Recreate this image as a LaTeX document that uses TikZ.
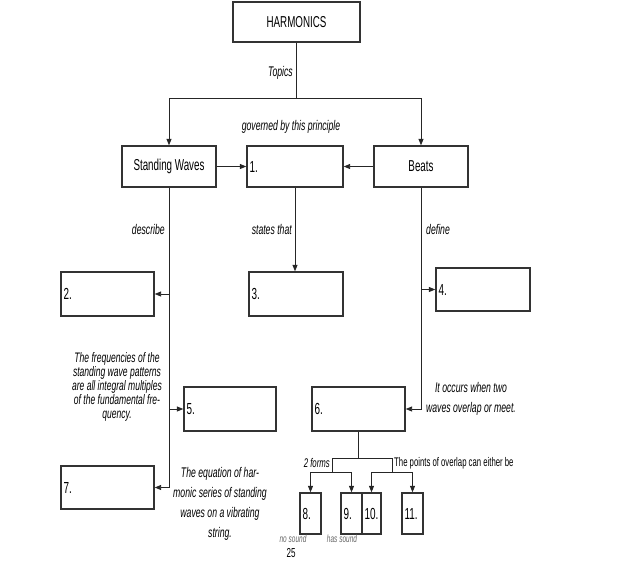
\documentclass[tikz,border=0pt]{standalone}
\usepackage{fontspec}
\setmainfont[FakeStretch=0.62]{Liberation Sans}
\usetikzlibrary{arrows.meta}
\begin{document}
\begin{tikzpicture}[x=1pt,y=-1pt,
  boxn/.style={draw=black!80,line width=1.3pt,fill=white,inner xsep=2.5pt,inner ysep=0pt,align=left,
     font=\fontsize{16}{16}\selectfont},
  titlebox/.style={draw=black!80,line width=1.3pt,fill=white,inner sep=0pt,align=center,
     font=\fontsize{15.8}{16}\selectfont},
  ln/.style={draw=black!85,line width=0.9pt},
  arr/.style={ln,-{Triangle[length=6.5pt,width=5pt]}},
  lbl/.style={inner sep=0pt,font=\fontsize{14}{14}\selectfont\itshape},
  para/.style={inner sep=0pt,align=center,font=\fontsize{13.8}{14}\selectfont\itshape},
  parb/.style={inner sep=0pt,align=center,font=\fontsize{14}{20}\selectfont\itshape},
  tiny/.style={inner sep=0pt,text=black!60,font=\fontsize{10.5}{10.5}\selectfont\itshape}
]
\useasboundingbox (0,0) rectangle (623,565);

% boxes
\node[titlebox,minimum width=127pt,minimum height=40pt] (harm) at (296.5,22) {HARMONICS};
\node[titlebox,minimum width=94pt,minimum height=41pt] (sw) at (169,166.5) {Standing Waves};
\node[titlebox,minimum width=94pt,minimum height=41pt] (beats) at (421,166.5) {Beats};
\node[boxn,text width=91pt,minimum height=41pt] (b1) at (295,166.5) {1.};
\node[boxn,text width=88pt,minimum height=44pt] (b2) at (107.5,294) {2.};
\node[boxn,text width=89pt,minimum height=44pt] (b3) at (296,294) {3.};
\node[boxn,text width=89pt,minimum height=43pt] (b4) at (483,289.5) {4.};
\node[boxn,text width=87pt,minimum height=44pt] (b5) at (230,409) {5.};
\node[boxn,text width=88pt,minimum height=44pt] (b6) at (358.5,409) {6.};
\node[boxn,text width=88pt,minimum height=43pt] (b7) at (107.5,487.5) {7.};
\node[boxn,text width=16pt,minimum height=41pt] (b8) at (310.5,513.5) {8.};
\node[boxn,text width=16pt,minimum height=41pt] (b9) at (351.5,513.5) {9.};
\node[boxn,text width=14pt,minimum height=41pt] (b10) at (371.5,513.5) {10.};
\node[boxn,text width=16pt,minimum height=41pt] (b11) at (412.5,513.5) {11.};

% top tree
\coordinate (j1) at (296.5,98);
\draw[ln] (harm.south) -- (j1);
\draw[arr] (j1) -| (sw.north);
\draw[arr] (j1) -| (beats.north);
\node[lbl,anchor=east] (topics) at (293,73) {Topics};
\node[lbl] (gov) at (291,127) {governed by this principle};

\draw[arr] (sw.east) -- (b1.west);
\draw[arr] (beats.west) -- (b1.east);

% standing waves trunk
\draw[ln] (sw.south) -- (sw.south |- b7.east);
\draw[arr] (sw.south |- b2.east) -- (b2.east);
\draw[arr] (sw.south |- b5.west) -- (b5.west);
\draw[arr] (sw.south |- b7.east) -- (b7.east);
\node[lbl,anchor=east] (describe) at (165,229) {describe};

% box 1 to 3
\draw[arr] (b1.south) -- (b1.south |- b3.north);
\node[lbl,anchor=east] (states) at (292,229) {states that};

% beats trunk
\draw[arr] (beats.south) |- (b6.east);
\draw[arr] (beats.south |- b4.west) -- (b4.west);
\node[lbl,anchor=west] (define) at (426,229) {define};

% paragraphs
\node[para] (freq) at (117,387) {The frequencies of the\\standing wave patterns\\are all integral multiples\\of the fundamental fre-\\quency.};
\node[parb] (eqn) at (220,504) {The equation of har-\\monic series of standing\\waves on a vibrating\\string.};
\node[parb] (occ) at (471,399) {It occurs when two\\waves overlap or meet.};

% box 6 tree
\coordinate (jL) at (332,458);
\coordinate (jR) at (392,458);
\coordinate (jL2) at (332,472);
\coordinate (jR2) at (392,472);
\draw[ln] (b6.south) -- (b6.south |- jL);
\draw[ln] (jL) -- (jR);
\draw[ln] (jL) -- (jL2);
\draw[ln] (jR) -- (jR2);
\draw[arr] (jL2) -| (b8.north);
\draw[arr] (jL2) -| (b9.north);
\draw[arr] (jR2) -| (b10.north);
\draw[arr] (jR2) -| (b11.north);
\node[inner sep=0pt,anchor=east,font=\fontsize{12.6}{12.6}\selectfont\itshape] (forms) at (330,463) {2 forms};
\node[inner sep=0pt,anchor=west,font=\fontsize{12.5}{12.5}\selectfont] (points) at (394,463) {The points of overlap can either be};

% bottom small texts
\node[tiny] (nos) at (293,538.5) {no sound};
\node[tiny] (has) at (342,538.5) {has sound};
\node[inner sep=0pt,font=\fontsize{13}{13}\selectfont] (pg) at (291,553) {25};
\end{tikzpicture}
\end{document}
